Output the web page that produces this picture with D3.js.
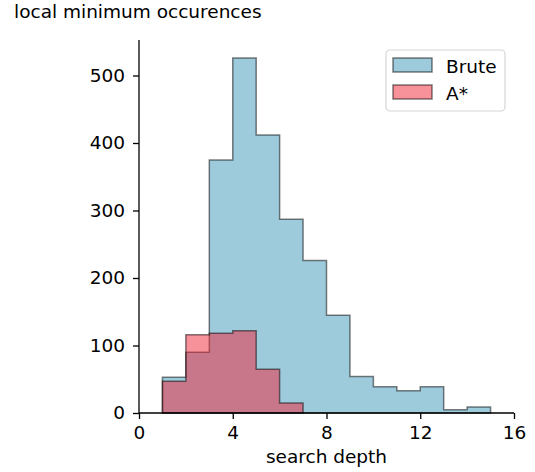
<!DOCTYPE html>
<html>
<head>
<meta charset="utf-8">
<script src="https://cdn.jsdelivr.net/npm/d3@7"></script>
<style>
  body { margin: 0; background: #fff; }
  text { font-family: "DejaVu Sans", sans-serif; }
</style>
</head>
<body>
<div id="chart"></div>
<script>
// bin edges and counts
let binEdges = [1, 2, 3, 4, 5, 6, 7, 8, 9, 10, 11, 12, 13, 14, 15]
let bruteCounts = [53, 90, 375, 526, 412, 287, 226, 145, 54, 39, 33, 39, 5, 9]
let astarEdges = [1, 2, 3, 4, 5, 6, 7]
let astarCounts = [47, 116, 118, 122, 65, 15]
let xTicks = [0, 4, 8, 12, 16]
let yTicks = [0, 100, 200, 300, 400, 500]

let colors = {
    brute: "#3d97b9",
    astar: "#ef2335"
}

const width = 535, height = 472
const margin = { left: 139, right: 21, top: 40, bottom: 59 }
const fontSize = 18.5

let svg = d3.select("#chart").append("svg")
    .attr("width", width)
    .attr("height", height)

let x = d3.scaleLinear().domain([0, 16]).range([margin.left, width - margin.right])
let y = d3.scaleLinear().domain([0, 552.6]).range([height - margin.bottom, margin.top])

function stepPoints(edges, counts) {
    let pts = [[edges[0], 0]]
    counts.forEach((c, i) => pts.push([edges[i], c]))
    pts.push([edges[edges.length - 1], 0])
    return pts
}

let area = d3.area()
    .x(d => x(d[0]))
    .y0(y(0))
    .y1(d => y(d[1]))
    .curve(d3.curveStepAfter)

let line = d3.line()
    .x(d => x(d[0]))
    .y(d => y(d[1]))
    .curve(d3.curveStepAfter)

function drawHist(edges, counts, color) {
    let pts = stepPoints(edges, counts)
    svg.append("path")
        .attr("d", area(pts))
        .attr("fill", color)
        .attr("fill-opacity", 0.5)
    svg.append("path")
        .attr("d", line(pts) + "Z")
        .attr("fill", "none")
        .attr("stroke", "black")
        .attr("stroke-opacity", 0.5)
        .attr("stroke-width", 1.5)
}

drawHist(binEdges, bruteCounts, colors.brute)
drawHist(astarEdges, astarCounts, colors.astar)

// axes
let xAxis = d3.axisBottom(x).tickValues(xTicks).tickSize(6).tickPadding(7).tickSizeOuter(0)
let yAxis = d3.axisLeft(y).tickValues(yTicks).tickSize(6).tickPadding(8).tickSizeOuter(0)

let gx = svg.append("g")
    .attr("transform", `translate(0,${y(0)})`)
    .call(xAxis)
gx.select(".domain").attr("d", `M${x(0)},0H${x(16)}`)

let gy = svg.append("g")
    .attr("transform", `translate(${x(0)},0)`)
    .call(yAxis)
gy.select(".domain").attr("d", `M0,${y(0)}V${margin.top}`)

svg.selectAll(".tick text")
    .attr("font-size", fontSize)
    .attr("font-family", "DejaVu Sans, sans-serif")
    .attr("fill", "black")
svg.selectAll(".domain, .tick line")
    .attr("stroke", "black")
    .attr("stroke-width", 1.3)

// labels
svg.append("text")
    .attr("x", (x(0) + x(16)) / 2)
    .attr("y", 463)
    .attr("text-anchor", "middle")
    .attr("font-size", fontSize)
    .text("search depth")

svg.append("text")
    .attr("x", 14)
    .attr("y", 18)
    .attr("font-size", fontSize)
    .text("local minimum occurences")

// legend
let legend = svg.append("g").attr("transform", "translate(386,50)")
legend.append("rect")
    .attr("width", 119)
    .attr("height", 61)
    .attr("rx", 4)
    .attr("fill", "white")
    .attr("fill-opacity", 0.8)
    .attr("stroke", "#d6d6d6")
    .attr("stroke-width", 1.2)

let legendItems = [
    { name: "Brute", color: colors.brute },
    { name: "A*", color: colors.astar }
]
legendItems.forEach((d, i) => {
    let row = legend.append("g").attr("transform", `translate(7,${8 + i * 27})`)
    row.append("rect")
        .attr("width", 39)
        .attr("height", 14)
        .attr("fill", d.color)
        .attr("fill-opacity", 0.5)
        .attr("stroke", "black")
        .attr("stroke-opacity", 0.5)
        .attr("stroke-width", 1.5)
    row.append("text")
        .attr("x", 53)
        .attr("y", 15)
        .attr("font-size", fontSize)
        .text(d.name)
})
</script>
</body>
</html>
